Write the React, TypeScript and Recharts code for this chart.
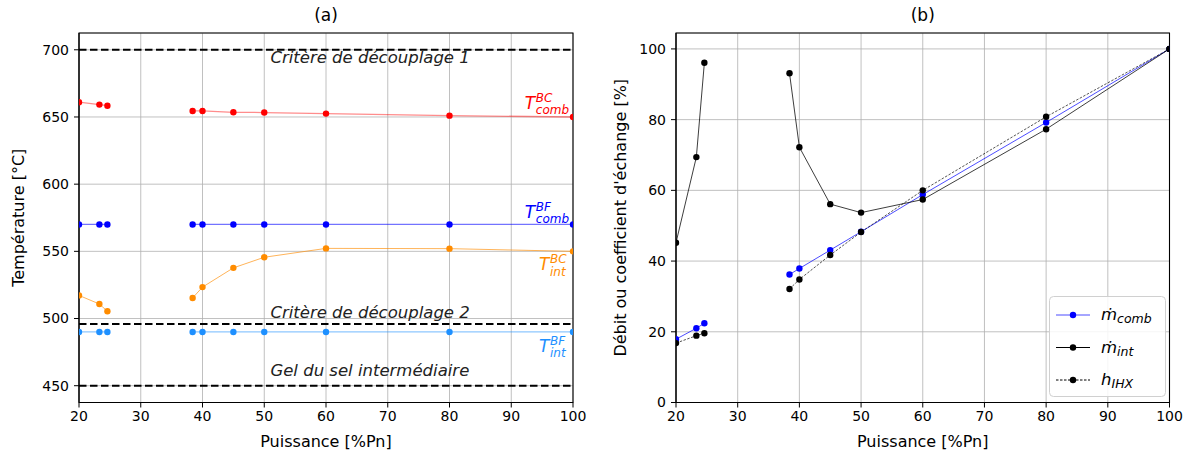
import React from 'react';
import {
  LineChart,
  Line,
  XAxis,
  YAxis,
  CartesianGrid,
  ReferenceLine,
  ReferenceArea,
  ReferenceDot,
} from 'recharts';

// ---------- data ----------
const puissance = [20, 23.3, 24.6, 38.4, 40, 45, 50, 60, 80, 100];
const gapAfterIndex = 2; // the curves are interrupted between 24.6 and 38.4 %Pn

const tCombBC = [661, 659.2, 658.4, 654.5, 654.5, 653.5, 653.3, 652.5, 651, 650];
const tCombBF = [570, 570, 570, 570, 570, 570, 570, 570, 570, 570];
const tIntBC = [517.2, 510.8, 505.4, 515.3, 523.4, 537.7, 545.6, 552.2, 552, 550];
const tIntBF = [490, 490, 490, 490, 490, 490, 490, 490, 490, 490];

const mComb = [17.9, 21, 22.4, 36.2, 37.9, 43.1, 48.3, 58.8, 79.2, 100];
const mInt = [45.2, 69.4, 96.1, 93.1, 72.2, 56.1, 53.7, 57.4, 77.3, 100];
const hIHX = [16.8, 18.9, 19.6, 32.1, 34.8, 41.7, 48.2, 60, 80.8, 100];

const xTicks = [20, 30, 40, 50, 60, 70, 80, 90, 100];
const tempTicks = [450, 500, 550, 600, 650, 700];
const pctTicks = [0, 20, 40, 60, 80, 100];

const seuilLabels = ['Critère de découplage 1', 'Critère de découplage 2', 'Gel du sel intermédiaire'];
const seuilValues = [700, 496, 450];

// ---------- layout / style ----------
const FONT = '"DejaVu Sans", Verdana, sans-serif';
const xDomain: [number, number] = [20, 100];
const tempDomain: [number, number] = [437.5, 712.5];
const pctDomain: [number, number] = [0, 104.5];
const seuilTextX = 51;
const seuilTextY = [690.2, 500.7, 457.1];

type Row = { [k: string]: number | null };

function buildRows(series: { [k: string]: number[] }): Row[] {
  const rows: Row[] = [];
  puissance.forEach((p, i) => {
    const row: Row = { p };
    Object.keys(series).forEach((k) => (row[k] = series[k][i]));
    rows.push(row);
    if (i === gapAfterIndex) {
      const gap: Row = { p: (puissance[i] + puissance[i + 1]) / 2 };
      Object.keys(series).forEach((k) => (gap[k] = null));
      rows.push(gap);
    }
  });
  return rows;
}

const leftRows = buildRows({ tCombBC, tCombBF, tIntBC, tIntBF });
const rightRows = buildRows({ mComb, mInt, hIHX });

const tickStyle = { fill: '#000', fontSize: 14, fontFamily: FONT };

const xLabel = (text: string) => (props: any) => {
  const vb = props.viewBox || {};
  return (
    <text
      x={vb.x + vb.width / 2}
      y={vb.y + 44.5}
      textAnchor="middle"
      fontFamily={FONT}
      fontSize={16}
      fill="#000"
    >
      {text}
    </text>
  );
};

const yLabel = (text: string, offset: number) => (props: any) => {
  const vb = props.viewBox || {};
  const x = vb.x + vb.width - offset;
  const y = vb.y + vb.height / 2;
  return (
    <text
      x={x}
      y={y}
      transform={`rotate(-90 ${x} ${y})`}
      textAnchor="middle"
      dominantBaseline="central"
      fontFamily={FONT}
      fontSize={16}
      fill="#000"
    >
      {text}
    </text>
  );
};

const seuilText = (text: string) => (props: any) => {
  const vb = props.viewBox || {};
  return (
    <text x={vb.x} y={vb.y} fontFamily={FONT} fontSize={16.5} fontStyle="italic" fill="#222">
      {text}
    </text>
  );
};

const seriesText = (sup: string, sub: string, color: string) => (props: any) => {
  const vb = props.viewBox || {};
  const x = vb.x;
  const base = vb.y + 6.5;
  const subX = x + 11;
  return (
    <text fontFamily={FONT} fontStyle="italic" fill={color}>
      <tspan x={x} y={base} fontSize={17}>
        T
      </tspan>
      <tspan x={subX} y={base - 7} fontSize={12}>
        {sup}
      </tspan>
      <tspan x={subX} y={base + 5.5} fontSize={12}>
        {sub}
      </tspan>
    </text>
  );
};

const seriesLabels = [
  { sup: 'BC', sub: 'comb', color: '#ff0000', x: 92.2, y: 660.8 },
  { sup: 'BF', sub: 'comb', color: '#0000ff', x: 92.2, y: 580 },
  { sup: 'BC', sub: 'int', color: '#ff8c00', x: 94.5, y: 540.9 },
  { sup: 'BF', sub: 'int', color: '#1e90ff', x: 94.5, y: 480.2 },
];

const dot = (color: string) => ({ r: 3.2, fill: color, stroke: 'none' });

function Title({ text, left, width }: { text: string; left: number; width: number }) {
  return (
    <div
      style={{
        position: 'absolute',
        left,
        width,
        top: 5,
        textAlign: 'center',
        fontFamily: FONT,
        fontSize: 17,
        lineHeight: '20px',
        color: '#000',
      }}
    >
      {text}
    </div>
  );
}

function LegendBox() {
  const items = [
    { name: 'comb', m: true, color: '#0000ff', opacity: 0.7, dash: undefined as string | undefined },
    { name: 'int', m: true, color: '#000', opacity: 1, dash: undefined },
    { name: 'IHX', m: false, color: '#000', opacity: 1, dash: '2.5 1.5' },
  ];
  return (
    <svg
      width={118}
      height={102}
      style={{ position: 'absolute', left: 1049, top: 296 }}
    >
      <rect x={0.5} y={0.5} width={116} height={100} rx={4} fill="rgba(255,255,255,0.85)" stroke="#d0d0d0" />
      {items.map((it, i) => {
        const cy = 19 + i * 32.5;
        return (
          <g key={it.name}>
            <line
              x1={7}
              x2={41}
              y1={cy}
              y2={cy}
              stroke={it.color}
              strokeOpacity={it.opacity}
              strokeWidth={1}
              strokeDasharray={it.dash}
            />
            <circle cx={24} cy={cy} r={3.2} fill={it.color} />
            <text x={52} y={cy + 5} fontFamily={FONT} fontStyle="italic" fill="#000">
              <tspan fontSize={16.5}>{it.m ? 'ṁ' : 'h'}</tspan>
              <tspan fontSize={12.5} dy={3}>
                {it.name}
              </tspan>
            </text>
          </g>
        );
      })}
    </svg>
  );
}

export default function App() {
  return (
    <div
      style={{
        position: 'absolute',
        left: 0,
        top: 0,
        width: 1191,
        height: 460,
        background: '#fff',
        overflow: 'hidden',
      }}
    >
      <Title text="(a)" left={79} width={494} />
      <Title text="(b)" left={676} width={493.5} />

      <div style={{ position: 'absolute', left: 0, top: 0 }}>
        <LineChart
          width={600}
          height={460}
          data={leftRows}
          margin={{ top: 33, right: 27, left: 19, bottom: 27.5 }}
        >
          <CartesianGrid stroke="#b0b0b0" strokeWidth={0.8} />
          <XAxis
            dataKey="p"
            type="number"
            domain={xDomain}
            ticks={xTicks}
            allowDataOverflow
            height={30}
            tickSize={5}
            tickMargin={4}
            stroke="#000"
            tick={tickStyle}
            label={xLabel('Puissance [%Pn]')}
          />
          <YAxis
            type="number"
            domain={tempDomain}
            ticks={tempTicks}
            allowDataOverflow
            width={60}
            tickSize={5}
            tickMargin={5}
            stroke="#000"
            tick={tickStyle}
            label={yLabel('Température [°C]', 61)}
          />
          {seuilValues.map((v, i) => (
            <ReferenceLine key={'l' + i} y={v} stroke="#000" strokeWidth={2} strokeDasharray="7.5 3.5" />
          ))}
          <Line dataKey="tCombBC" stroke="#ff0000" strokeOpacity={0.45} strokeWidth={1.3} dot={dot('#ff0000')} activeDot={false} isAnimationActive={false} connectNulls={false} />
          <Line dataKey="tCombBF" stroke="#0000ff" strokeOpacity={0.55} strokeWidth={1.3} dot={dot('#0000ff')} activeDot={false} isAnimationActive={false} connectNulls={false} />
          <Line dataKey="tIntBC" stroke="#ff8c00" strokeOpacity={0.65} strokeWidth={1} dot={dot('#ff8c00')} activeDot={false} isAnimationActive={false} connectNulls={false} />
          <Line dataKey="tIntBF" stroke="#1e90ff" strokeOpacity={0.5} strokeWidth={1.3} dot={dot('#1e90ff')} activeDot={false} isAnimationActive={false} connectNulls={false} />
          {seuilLabels.map((t, i) => (
            <ReferenceDot key={'t' + i} x={seuilTextX} y={seuilTextY[i]} r={0.01} fill="none" stroke="none" label={seuilText(t)} />
          ))}
          {seriesLabels.map((s, i) => (
            <ReferenceDot key={'s' + i} x={s.x} y={s.y} r={0.01} fill="none" stroke="none" label={seriesText(s.sup, s.sub, s.color)} />
          ))}
          <ReferenceArea x1={20} x2={100} y1={tempDomain[0]} y2={tempDomain[1]} fill="none" fillOpacity={0} stroke="#000" strokeWidth={1.1} strokeOpacity={1} />
        </LineChart>
      </div>

      <div style={{ position: 'absolute', left: 600, top: 0 }}>
        <LineChart
          width={591}
          height={460}
          data={rightRows}
          margin={{ top: 33, right: 21.5, left: 16, bottom: 27.5 }}
        >
          <CartesianGrid stroke="#b0b0b0" strokeWidth={0.8} />
          <XAxis
            dataKey="p"
            type="number"
            domain={xDomain}
            ticks={xTicks}
            allowDataOverflow
            height={30}
            tickSize={5}
            tickMargin={4}
            stroke="#000"
            tick={tickStyle}
            label={xLabel('Puissance [%Pn]')}
          />
          <YAxis
            type="number"
            domain={pctDomain}
            ticks={pctTicks}
            allowDataOverflow
            width={60}
            tickSize={5}
            tickMargin={5}
            stroke="#000"
            tick={tickStyle}
            label={yLabel("Débit ou coefficient d'échange [%]", 56)}
          />
          <Line dataKey="mComb" stroke="#0000ff" strokeOpacity={0.7} strokeWidth={1} dot={dot('#0000ff')} activeDot={false} isAnimationActive={false} connectNulls={false} />
          <Line dataKey="mInt" stroke="#000" strokeOpacity={0.85} strokeWidth={0.9} dot={dot('#000')} activeDot={false} isAnimationActive={false} connectNulls={false} />
          <Line dataKey="hIHX" stroke="#000" strokeOpacity={0.85} strokeWidth={0.8} strokeDasharray="2.5 1.5" dot={dot('#000')} activeDot={false} isAnimationActive={false} connectNulls={false} />
          <ReferenceArea x1={20} x2={100} y1={pctDomain[0]} y2={pctDomain[1]} fill="none" fillOpacity={0} stroke="#000" strokeWidth={1.1} strokeOpacity={1} />
        </LineChart>
      </div>

      <LegendBox />
    </div>
  );
}
